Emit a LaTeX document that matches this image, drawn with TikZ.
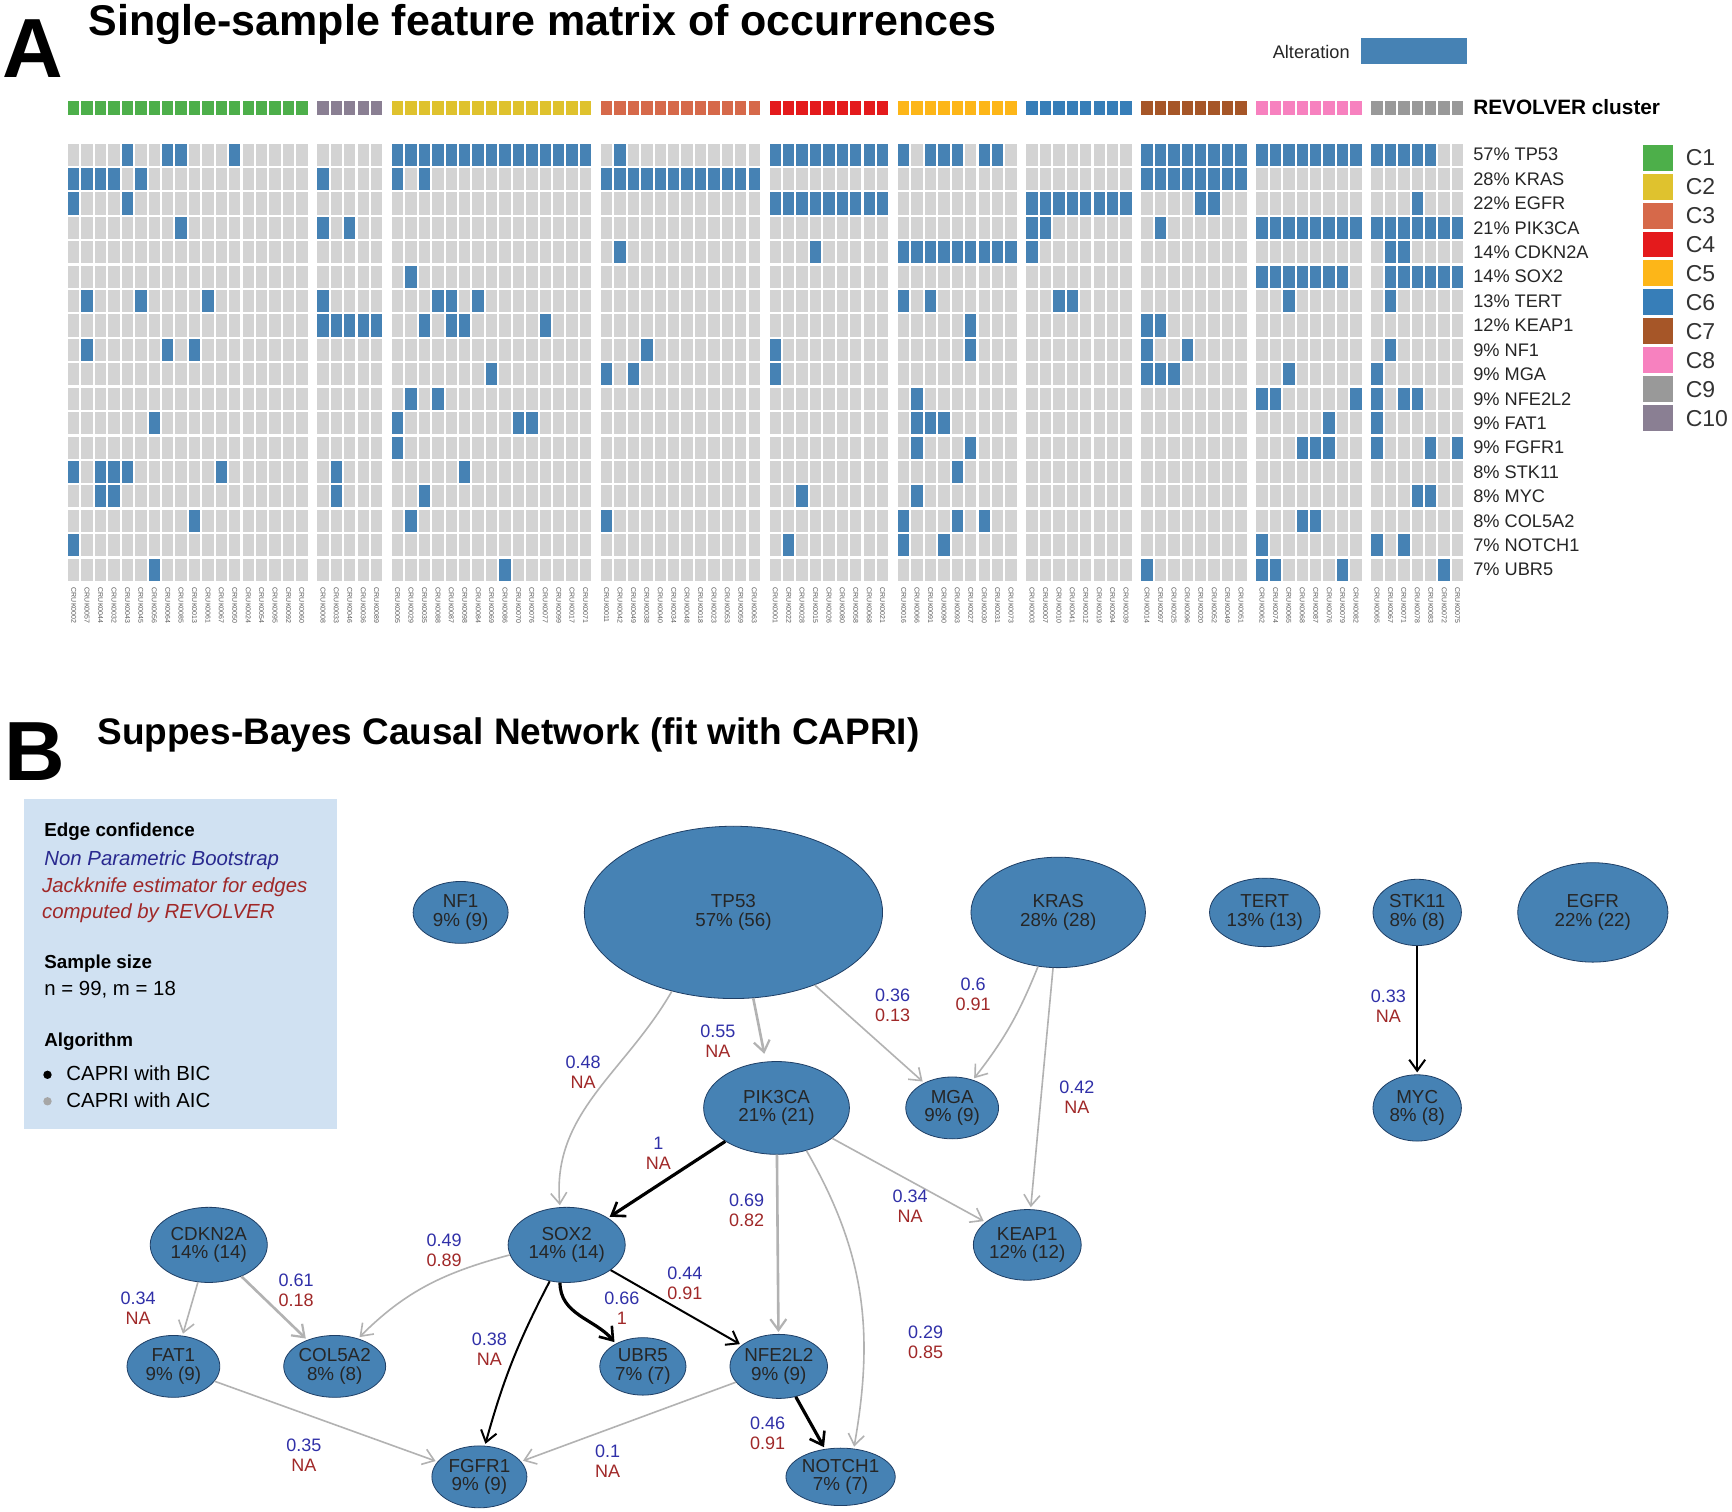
\documentclass[tikz,border=0pt]{standalone}
\usepackage{fontspec}
\setmainfont{Liberation Sans}
\usetikzlibrary{arrows.meta,shapes.geometric}
\newcommand\fs[1]{\fontsize{#1pt}{#1pt}\selectfont}
\definecolor{cb}{HTML}{4682B4}
\definecolor{cg}{HTML}{D3D3D3}
\definecolor{c1}{HTML}{4DAF4A}
\definecolor{c2}{HTML}{DFC22E}
\definecolor{c3}{HTML}{D6694A}
\definecolor{c4}{HTML}{E41A1C}
\definecolor{c5}{HTML}{FDB618}
\definecolor{c6}{HTML}{377EB8}
\definecolor{c7}{HTML}{A65628}
\definecolor{c8}{HTML}{F781BF}
\definecolor{c9}{HTML}{999999}
\definecolor{c10}{HTML}{8A7F93}
\definecolor{lblue}{HTML}{3030A8}
\definecolor{lred}{HTML}{A02828}
\definecolor{boxbg}{HTML}{D0E1F2}
\definecolor{nodeborder}{HTML}{1F3F66}
\newcommand\rowtop{130}
\newcommand\rowp{22.1}
\newcommand\bc[3]{%
  \pgfmathsetmacro\goff{{0,18,23,38,50,59,68,76,84,92}[#2]}%
  \foreach \k in {#3}{\fill[cb] ({61.6+(\goff+\k)*12.15+#2*6.9},{\rowtop+#1*\rowp}) rectangle ++(10.3,20);}}
\begin{document}
\begin{tikzpicture}[x=1.105pt,y=-1.105pt,
  gene/.style={ellipse,fill=cb,draw=nodeborder,line width=0.8pt,inner sep=0pt,align=center,font=\fs{18.8},text=black!85},
  sz/.style 2 args={minimum width=#1*1.105pt,minimum height=#2*1.105pt},
  lab/.style={font=\fs{18},inner sep=0pt,align=center},
  aic/.style={draw=black!30,line width=1.6pt,-{Straight Barb[length=11pt,width=16pt,line width=1.6pt]},shorten >=2pt},
  aicT/.style={draw=black!30,line width=2.6pt,-{Straight Barb[length=11pt,width=16pt,line width=2.2pt]},shorten >=2pt},
  bic/.style={draw=black,line width=2pt,-{Straight Barb[length=11pt,width=16pt,line width=2pt]},shorten >=2pt},
  bicT/.style={draw=black,line width=3.2pt,-{Straight Barb[length=12pt,width=17pt,line width=2.6pt]},shorten >=2pt}]
\useasboundingbox (0,0) rectangle (1568,1368);
\fill[white] (0,0) rectangle (1568,1368);
% ---------- Panel A
\node[anchor=west,font=\fs{84}\bfseries,inner sep=0pt] (A) at (2,44) {A};
\node[anchor=west,font=\fs{43}\bfseries,inner sep=0pt] (titleA) at (80,22) {Single-sample feature matrix of occurrences};
\node[anchor=east,font=\fs{18.2},inner sep=0pt,text=black!85] (alt) at (1222,47) {Alteration};
\fill[cb] (1232,34) rectangle (1328,58);
% grid
\foreach \g/\off/\n/\col in {0/0/18/c1,1/18/5/c10,2/23/15/c2,3/38/12/c3,4/50/9/c4,5/59/9/c5,6/68/8/c6,7/76/8/c7,8/84/8/c8,9/92/7/c9}{
  \pgfmathtruncatemacro\last{\n-1}
  \foreach \k in {0,...,\last}{
    \pgfmathsetmacro\xx{61.6+(\off+\k)*12.15+\g*6.9}
    \fill[\col] (\xx,91) rectangle ++(10.3,13.5);
    \foreach \r in {0,...,17}{\fill[cg] (\xx,{\rowtop+\r*\rowp}) rectangle ++(10.3,20);}
  }
}
% blue cells
\bc{0}{0}{4,7,8,12}\bc{0}{2}{0,...,14}\bc{0}{3}{1}\bc{0}{4}{0,...,8}\bc{0}{5}{0,2,3,4,6,7}\bc{0}{7}{0,...,7}\bc{0}{8}{0,...,7}\bc{0}{9}{0,...,4}
\bc{1}{0}{0,1,2,3,5}\bc{1}{1}{0}\bc{1}{2}{0,2}\bc{1}{3}{0,...,11}\bc{1}{7}{0,...,7}
\bc{2}{0}{0,4}\bc{2}{4}{0,...,8}\bc{2}{6}{0,...,7}\bc{2}{7}{4,5}\bc{2}{9}{3}
\bc{3}{0}{8}\bc{3}{1}{0,2}\bc{3}{6}{0,1}\bc{3}{7}{1}\bc{3}{8}{0,...,7}\bc{3}{9}{0,...,6}
\bc{4}{3}{1}\bc{4}{4}{3}\bc{4}{5}{0,...,8}\bc{4}{6}{0}\bc{4}{9}{1,2}
\bc{5}{2}{1}\bc{5}{8}{0,...,6}\bc{5}{9}{1,...,6}
\bc{6}{0}{1,5,10}\bc{6}{1}{0}\bc{6}{2}{3,4,6}\bc{6}{5}{0,2}\bc{6}{6}{2,3}\bc{6}{8}{2}\bc{6}{9}{1}
\bc{7}{1}{0,...,4}\bc{7}{2}{2,4,5,11}\bc{7}{5}{5}\bc{7}{7}{0,1}
\bc{8}{0}{1,7,9}\bc{8}{3}{3}\bc{8}{4}{0}\bc{8}{5}{5}\bc{8}{7}{0,3}\bc{8}{9}{1}
\bc{9}{2}{7}\bc{9}{3}{0,2}\bc{9}{4}{0}\bc{9}{7}{0,1,2}\bc{9}{8}{2}\bc{9}{9}{0}
\bc{10}{2}{1,3}\bc{10}{5}{1}\bc{10}{8}{0,1,7}\bc{10}{9}{0,2,3}
\bc{11}{0}{6}\bc{11}{2}{0,9,10}\bc{11}{5}{1,2,3}\bc{11}{8}{5}\bc{11}{9}{0}
\bc{12}{2}{0}\bc{12}{5}{1,5}\bc{12}{8}{3,4,5}\bc{12}{9}{0,4,6}
\bc{13}{0}{0,2,3,4,11}\bc{13}{1}{1}\bc{13}{2}{5}\bc{13}{5}{4}
\bc{14}{0}{2,3}\bc{14}{1}{1}\bc{14}{2}{2}\bc{14}{4}{2}\bc{14}{5}{1}\bc{14}{9}{3,4}
\bc{15}{0}{9}\bc{15}{2}{1}\bc{15}{3}{0}\bc{15}{5}{0,4,6}\bc{15}{8}{3,4}
\bc{16}{0}{0}\bc{16}{4}{1}\bc{16}{5}{0,3}\bc{16}{8}{0}\bc{16}{9}{0,2}
\bc{17}{0}{6}\bc{17}{2}{8}\bc{17}{7}{0}\bc{17}{8}{0,1,6}\bc{17}{9}{5}
% row labels
\foreach \t [count=\r from 0] in {57\% TP53,28\% KRAS,22\% EGFR,21\% PIK3CA,14\% CDKN2A,14\% SOX2,13\% TERT,12\% KEAP1,9\% NF1,9\% MGA,9\% NFE2L2,9\% FAT1,9\% FGFR1,8\% STK11,8\% MYC,8\% COL5A2,7\% NOTCH1,7\% UBR5}{
  \node[anchor=west,font=\fs{18.2},inner sep=0pt,text=black!85] (row\r) at (1333.6,{\rowtop+\r*\rowp+10}) {\t};
}
\node[anchor=west,font=\fs{20.8}\bfseries,inner sep=0pt] (rev) at (1333.6,97) {REVOLVER cluster};
% cluster legend
\foreach \col/\t [count=\i from 0] in {c1/C1,c2/C2,c3/C3,c4/C4,c5/C5,c6/C6,c7/C7,c8/C8,c9/C9,c10/C10}{
  \fill[\col] (1487.5,{131+\i*26.2}) rectangle ++(27.5,23.5);
  \node[anchor=west,font=\fs{23},inner sep=0pt,text=black!80] (leg\i) at (1526,{131+\i*26.2+12}) {\t};
}
% sample labels
\foreach \lab [count=\i from 0] in {0002,0057,0044,0032,0043,0045,0056,0064,0085,0013,0061,0067,0050,0024,0054,0095,0092,0060,
 0008,0033,0046,0036,0089,
 0005,0029,0035,0088,0087,0098,0084,0069,0086,0070,0076,0077,0099,0017,0071,
 0011,0042,0049,0038,0040,0034,0048,0018,0023,0053,0059,0063,
 0001,0022,0028,0015,0026,0080,0058,0068,0021,
 0016,0066,0091,0090,0093,0027,0030,0031,0073,
 0003,0007,0010,0041,0012,0019,0094,0039,
 0014,0097,0025,0096,0020,0052,0049,0051,
 0062,0074,0065,0068,0087,0076,0079,0082,
 0065,0067,0071,0078,0083,0072,0075}{
  \pgfmathsetmacro\gg{(\i>=18)+(\i>=23)+(\i>=38)+(\i>=50)+(\i>=59)+(\i>=68)+(\i>=76)+(\i>=84)+(\i>=92)}
  \node[rotate=-90,anchor=west,font=\fs{7},inner sep=0pt,text=black!65] at ({61.6+\i*12.15+\gg*6.9+5.15},532) {CRUK\lab};
}
% ---------- Panel B
\node[anchor=west,font=\fs{84}\bfseries,inner sep=0pt] (B) at (4,680) {B};
\node[anchor=west,font=\fs{37}\bfseries,inner sep=0pt] (titleB) at (88,665) {Suppes-Bayes Causal Network (fit with CAPRI)};
\fill[boxbg] (22,723) rectangle (305,1022);
\node[anchor=west,font=\fs{18.8}\bfseries,inner sep=0pt] (b1) at (40,753) {Edge confidence};
\node[anchor=west,font=\fs{20.4}\itshape,inner sep=0pt,text=lblue!85!black] (b2) at (40,779) {Non Parametric Bootstrap};
\node[anchor=west,font=\fs{20.4}\itshape,inner sep=0pt,text=lred] (b3) at (38,803) {Jackknife estimator for edges};
\node[anchor=west,font=\fs{20.4}\itshape,inner sep=0pt,text=lred] (b4) at (38,827) {computed by REVOLVER};
\node[anchor=west,font=\fs{18.8}\bfseries,inner sep=0pt] (b5) at (40,872) {Sample size};
\node[anchor=west,font=\fs{20.4},inner sep=0pt] (b6) at (40,896) {n = 99, m = 18};
\node[anchor=west,font=\fs{18.8}\bfseries,inner sep=0pt] (b7) at (40,943) {Algorithm};
\fill[black] (43,973) circle (3.8);
\fill[black!35] (43,997) circle (3.8);
\node[anchor=west,font=\fs{20.4},inner sep=0pt] (b8) at (60,972) {CAPRI with BIC};
\node[anchor=west,font=\fs{20.4},inner sep=0pt] (b9) at (60,996) {CAPRI with AIC};
% nodes
\node[gene,sz={86}{56}] (NF1) at (417,826) {NF1\\9\% (9)};
\node[gene,sz={270}{156}] (TP53) at (664,826) {TP53\\57\% (56)};
\node[gene,sz={158}{100}] (KRAS) at (958,826) {KRAS\\28\% (28)};
\node[gene,sz={100}{62}] (TERT) at (1145,826) {TERT\\13\% (13)};
\node[gene,sz={80}{60}] (STK11) at (1283,826) {STK11\\8\% (8)};
\node[gene,sz={136}{90}] (EGFR) at (1442,826) {EGFR\\22\% (22)};
\node[gene,sz={132}{84}] (PIK3CA) at (703,1003) {PIK3CA\\21\% (21)};
\node[gene,sz={84}{56}] (MGA) at (862,1003) {MGA\\9\% (9)};
\node[gene,sz={80}{60}] (MYC) at (1283,1003) {MYC\\8\% (8)};
\node[gene,sz={106}{68}] (CDKN2A) at (189,1127) {CDKN2A\\14\% (14)};
\node[gene,sz={106}{68}] (SOX2) at (513,1127) {SOX2\\14\% (14)};
\node[gene,sz={96}{64}] (KEAP1) at (930,1127) {KEAP1\\12\% (12)};
\node[gene,sz={84}{56}] (FAT1) at (157,1237) {FAT1\\9\% (9)};
\node[gene,sz={84}{56}] (COL5A2) at (303,1237) {COL5A2\\8\% (8)};
\node[gene,sz={78}{52}] (UBR5) at (582,1237) {UBR5\\7\% (7)};
\node[gene,sz={86}{58}] (NFE2L2) at (705,1237) {NFE2L2\\9\% (9)};
\node[gene,sz={86}{56}] (FGFR1) at (434,1337) {FGFR1\\9\% (9)};
\node[gene,sz={80}{52}] (NOTCH1) at (761,1337) {NOTCH1\\7\% (7)};
% edges
\draw[aic] (TP53.232) to[out=240,in=95] (SOX2.100);
\draw[aicT,shorten >=8pt] (TP53.283) -- (PIK3CA.103);
\draw[aic] (TP53) -- (MGA);
\draw[aic] (KRAS) to[bend left=8] (MGA);
\draw[aic] (KRAS) -- (KEAP1);
\draw[bic] (STK11) -- (MYC);
\draw[bicT] (PIK3CA) -- (SOX2);
\draw[aicT] (PIK3CA) -- (NFE2L2);
\draw[aic] (PIK3CA) -- (KEAP1);
\draw[aic] (PIK3CA.-55) to[out=-60,in=80] (NOTCH1.65);
\draw[aic] (CDKN2A) -- (FAT1);
\draw[aicT] (CDKN2A) -- (COL5A2);
\draw[aic] (SOX2.190) to[out=195,in=45] (COL5A2.50);
\draw[bicT] (SOX2.-100) to[out=-90,in=130] (UBR5.140);
\draw[bic] (SOX2) -- (NFE2L2);
\draw[bic] (SOX2.-115) to[bend right=6] (FGFR1.80);
\draw[aic] (FAT1) -- (FGFR1);
\draw[aic] (NFE2L2) -- (FGFR1);
\draw[bicT] (NFE2L2) -- (NOTCH1);
% edge labels
\foreach \x/\y/\a/\b in {528/971/0.48/NA, 650/943/0.55/NA, 808/910/0.36/0.13, 881/900/0.6/0.91, 975/993/0.42/NA,
  1257/911/0.33/NA, 596/1044/1/NA, 676/1096/0.69/0.82, 824/1092/0.34/NA, 838/1215/0.29/0.85, 125/1184/0.34/NA,
  268/1168/0.61/0.18, 402/1132/0.49/0.89, 563/1184/0.66/1, 620/1162/0.44/0.91, 443/1221/0.38/NA, 275/1317/0.35/NA,
  550/1323/0.1/NA, 695/1298/0.46/0.91}{
  \node[lab] at (\x,\y) {\textcolor{lblue}{\a}\\[2pt]\textcolor{lred}{\b}};
}
\end{tikzpicture}
\end{document}
